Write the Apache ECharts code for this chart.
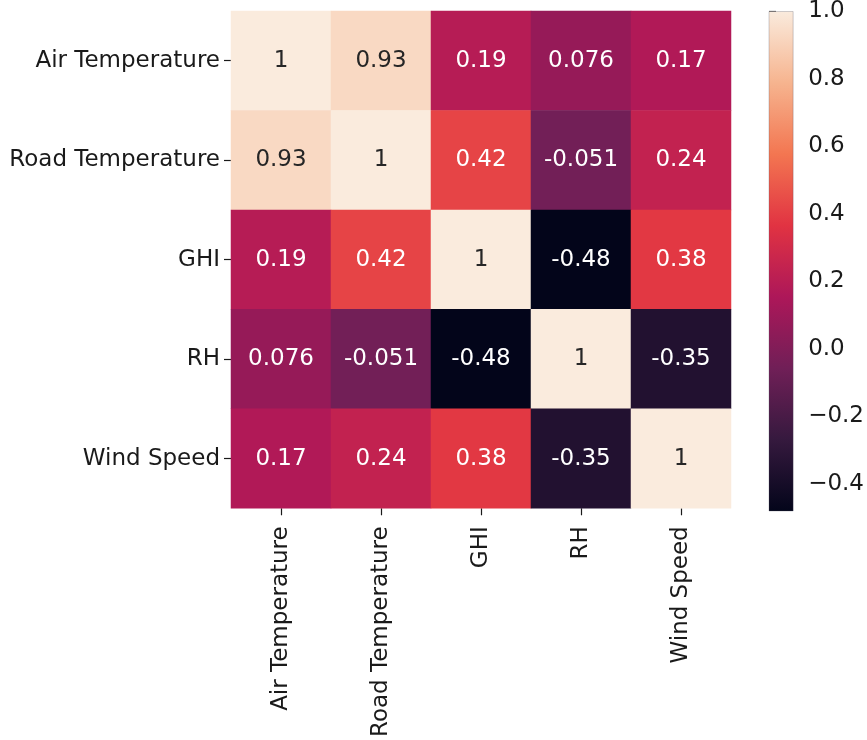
<!DOCTYPE html>
<html>
<head>
<meta charset="utf-8">
<script src="https://cdn.jsdelivr.net/npm/echarts@6/dist/echarts.min.js"></script>
<style>
  html, body { margin: 0; padding: 0; background: #fff; }
  #chart { width: 867px; height: 740px; }
</style>
</head>
<body>
<div id="chart"></div>
<script>
// Variables of the correlation matrix (rows top to bottom, columns left to right)
const variables = ['Air Temperature', 'Road Temperature', 'GHI', 'RH', 'Wind Speed'];

// Pearson correlation coefficients, one row per variable
const rowAirTemp  = [1, 0.93, 0.19, 0.076, 0.17];
const rowRoadTemp = [0.93, 1, 0.42, -0.051, 0.24];
const rowGHI      = [0.19, 0.42, 1, -0.48, 0.38];
const rowRH       = [0.076, -0.051, -0.48, 1, -0.35];
const rowWind     = [0.17, 0.24, 0.38, -0.35, 1];

// Colour bar range and tick labels
const scaleMin = -0.48;
const scaleMax = 1.0;
const colorbarTicks = [-0.4, -0.2, 0.0, 0.2, 0.4, 0.6, 0.8, 1.0];

// "rocket" colour map, evenly spaced stops from dark to light
const rocket = ['#03051a', '#35193e', '#701f57', '#ad1759', '#e13342', '#f37651', '#f6b48f', '#faebdd'];

const rows = [rowAirTemp, rowRoadTemp, rowGHI, rowRH, rowWind];
const cells = [];
rows.forEach((row, r) => {
  row.forEach((v, c) => {
    const norm = (v - scaleMin) / (scaleMax - scaleMin);
    cells.push({
      value: [c, r, v],
      label: { color: norm > 0.8 ? '#262626' : '#ffffff' }
    });
  });
});

// Gradient for the colour bar, light at the top and dark at the bottom
const barStops = rocket.map((c, i) => ({ offset: 1 - i / (rocket.length - 1), color: c }));

const FONT = 'DejaVu Sans';
const FS = 23;
const TEXT = '#1a1a1a';

const chart = echarts.init(document.getElementById('chart'), null, { renderer: 'canvas' });
chart.setOption({
  animation: false,
  backgroundColor: '#ffffff',
  textStyle: { fontFamily: FONT },
  grid: [
    { left: 231, top: 11, width: 500, height: 500 },
    { left: 769, top: 11, width: 26, height: 500 }
  ],
  xAxis: [
    {
      gridIndex: 0,
      type: 'category',
      data: variables,
      position: 'bottom',
      axisLine: { show: false },
      axisTick: { show: true, alignWithLabel: true, length: 7, lineStyle: { color: TEXT, width: 1.2 } },
      axisLabel: { rotate: 90, margin: 18, fontSize: FS, color: TEXT, fontFamily: FONT },
      splitLine: { show: false }
    },
    {
      gridIndex: 1,
      type: 'value',
      show: false,
      min: 0,
      max: 1
    }
  ],
  yAxis: [
    {
      gridIndex: 0,
      type: 'category',
      data: variables,
      inverse: true,
      axisLine: { show: false },
      axisTick: { show: true, alignWithLabel: true, length: 7, lineStyle: { color: TEXT, width: 1.2 } },
      axisLabel: { margin: 11, fontSize: FS, color: TEXT, fontFamily: FONT },
      splitLine: { show: false }
    },
    {
      gridIndex: 1,
      type: 'value',
      position: 'right',
      min: scaleMin,
      max: scaleMax,
      axisLine: { show: false },
      axisTick: { show: true, length: 7, customValues: colorbarTicks, lineStyle: { color: TEXT, width: 1.2 } },
      axisLabel: {
        show: true,
        margin: 15,
        fontSize: FS,
        color: TEXT,
        fontFamily: FONT,
        customValues: colorbarTicks,
        formatter: v => (v < 0 ? '\u2212' : '') + Math.abs(v).toFixed(1)
      },
      splitLine: { show: false }
    }
  ],
  visualMap: {
    type: 'continuous',
    show: false,
    seriesIndex: 0,
    min: scaleMin,
    max: scaleMax,
    inRange: { color: rocket }
  },
  series: [
    {
      type: 'heatmap',
      xAxisIndex: 0,
      yAxisIndex: 0,
      data: cells,
      label: {
        show: true,
        fontSize: FS,
        fontFamily: FONT,
        formatter: p => String(p.value[2])
      },
      itemStyle: { borderWidth: 0 },
      emphasis: { disabled: true }
    },
    {
      // colour bar: one rectangle spanning the scale range
      type: 'custom',
      xAxisIndex: 1,
      yAxisIndex: 1,
      silent: true,
      data: [[0, scaleMin, 1, scaleMax]],
      renderItem: (params, api) => {
        const p0 = api.coord([api.value(0), api.value(3)]);
        const p1 = api.coord([api.value(2), api.value(1)]);
        return {
          type: 'rect',
          shape: { x: p0[0], y: p0[1], width: p1[0] - p0[0], height: p1[1] - p0[1] },
          style: {
            fill: new echarts.graphic.LinearGradient(0, 0, 0, 1, barStops),
            stroke: 'rgba(80,80,100,0.35)',
            lineWidth: 0.8
          }
        };
      }
    }
  ]
});
</script>
</body>
</html>
